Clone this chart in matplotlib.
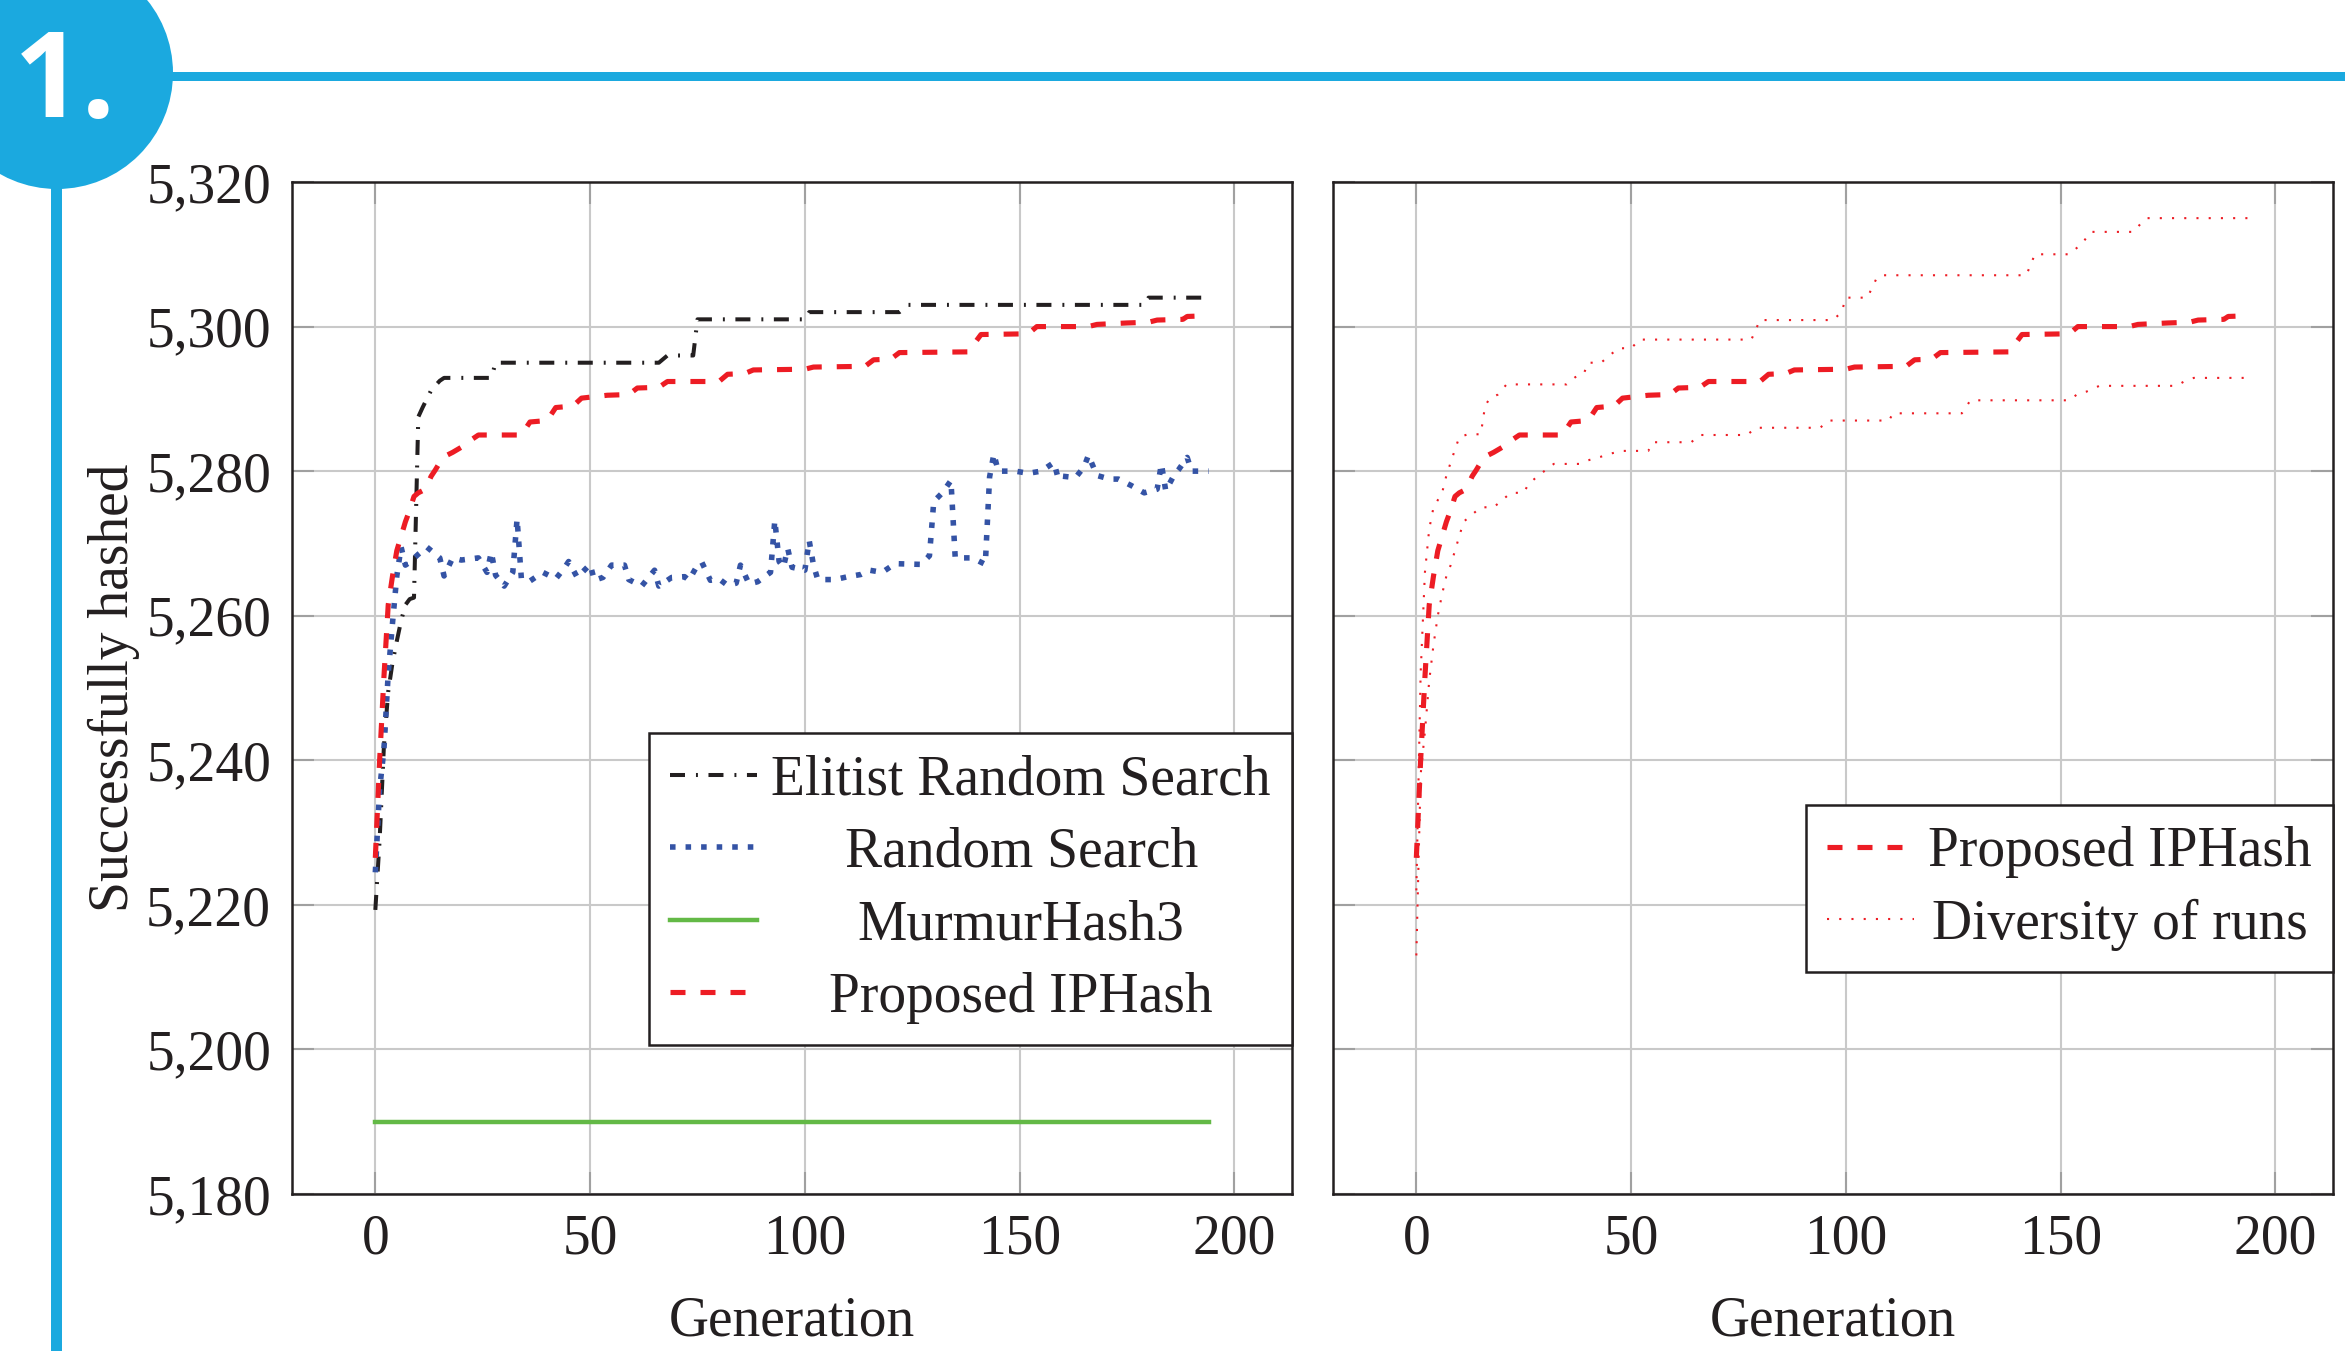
import matplotlib
matplotlib.use("Agg")
import matplotlib.pyplot as plt
from matplotlib.patches import Circle, Rectangle
from matplotlib.ticker import FuncFormatter

# ---------------- data ----------------
elitist_gen = [0, 1, 2, 3, 4, 5, 6, 7, 8, 9, 10, 11, 13, 15, 16, 27, 28, 66, 68, 74, 75,
               100, 101, 122, 124, 179, 180, 194]
elitist_val = [5219.3, 5229, 5242, 5249.5, 5253.5, 5256.5, 5259.3, 5261.5, 5262.3, 5262.5,
               5287.5, 5288.8, 5291.2, 5292.5, 5292.9, 5292.9, 5295, 5295, 5296, 5296, 5301,
               5301, 5302, 5302, 5303, 5303, 5304, 5304]

random_gen = [0, 1, 2, 3, 4, 5, 6, 7, 8, 10, 12, 15, 16, 18, 20, 24, 26, 27, 28, 30, 32, 33,
              34, 36, 39, 42, 44, 45, 47, 50, 51, 53, 55, 58, 59, 62, 65, 66, 69, 72, 73, 75,
              76, 78, 80, 82, 84, 85, 87, 89, 92, 93, 94, 95, 96, 97, 100, 101, 102, 103, 107,
              110, 113, 115, 118, 121, 127, 129, 130, 132, 134, 135, 139, 142, 143, 144, 145,
              149, 152, 155, 158, 159, 160, 163, 165, 166, 168, 171, 173, 176, 179, 182, 183,
              184, 186, 187, 189, 190, 194]
random_val = [5224.5, 5236, 5241.5, 5252, 5259, 5265.5, 5269.5, 5267, 5267.4, 5268.5, 5269.5,
              5268, 5265.5, 5268, 5267.7, 5268, 5266, 5268.8, 5265.6, 5264.1, 5266, 5273.4,
              5265.1, 5264.8, 5266, 5265.1, 5266.6, 5267.5, 5265.3, 5267.1, 5264.9, 5265.3,
              5267, 5267, 5265, 5264.1, 5266.3, 5264.1, 5265.3, 5265.4, 5264.9, 5267, 5267.4,
              5264.9, 5265.1, 5264.2, 5264.5, 5267, 5264.4, 5264.7, 5266, 5273.2, 5267.5,
              5266.7, 5269.3, 5266.7, 5266.3, 5270.4, 5267, 5265, 5265, 5265.4, 5265.7, 5266.3,
              5266, 5267.2, 5267.1, 5268.3, 5275.8, 5277, 5278.7, 5268, 5268, 5267.1, 5279.2,
              5282.4, 5280, 5280, 5279.7, 5280, 5281.2, 5278.9, 5279.3, 5279.1, 5280.6, 5282.2,
              5279.4, 5278.9, 5278.9, 5278, 5277, 5277.5, 5281, 5277.3, 5279.5, 5280.2, 5281.9,
              5280, 5280]

murmur_gen = [0, 194]
murmur_val = [5190, 5190]

iphash_gen = [0, 1, 2, 3, 4, 5, 6, 7, 8, 9, 10, 11, 12, 13, 14, 15, 16, 18, 20, 22, 24, 34,
              36, 40, 42, 46, 48, 54, 59, 61, 66, 68, 80, 82, 86, 88, 100, 102, 114, 116, 120,
              122, 138, 141, 152, 154, 166, 168, 175, 180, 182, 188, 189, 194]
iphash_val = [5226.5, 5240, 5251.5, 5261.5, 5265.5, 5269, 5271, 5273, 5274.6, 5276.5, 5277,
              5277.3, 5278, 5279.3, 5280.2, 5281.2, 5282, 5282.6, 5283.3, 5284.2, 5285, 5285,
              5286.8, 5287, 5288.8, 5289, 5290.1, 5290.5, 5290.6, 5291.5, 5291.6, 5292.4,
              5292.4, 5293.4, 5293.5, 5294, 5294.1, 5294.4, 5294.5, 5295.4, 5295.5, 5296.4,
              5296.5, 5298.9, 5299, 5300, 5300, 5300.3, 5300.5, 5300.6, 5300.9, 5301, 5301.4,
              5301.5]

upper_gen = [0, 1, 2, 3, 4, 5, 6, 7, 8, 9, 10, 12, 15, 16, 17, 19, 21, 35, 37, 39, 40, 43,
             45, 47, 50, 52, 78, 80, 97, 99, 100, 105, 107, 108, 142, 144, 152, 155, 157, 167,
             169, 170, 194]
upper_val = [5222, 5252, 5266, 5272, 5275, 5276, 5277, 5279.4, 5281.2, 5283, 5284.7, 5285.1,
             5285.1, 5289, 5290, 5290.6, 5292, 5292, 5293, 5293.5, 5295, 5295, 5296, 5297,
             5297, 5298.2, 5298.2, 5300.9, 5300.9, 5302, 5304, 5304, 5306.5, 5307.1, 5307.1,
             5310, 5310, 5311.5, 5313.1, 5313.1, 5314.5, 5315, 5315]

lower_gen = [0, 1, 2, 3, 4, 5, 6, 7, 8, 9, 10, 11, 13, 15, 18, 20, 22, 25, 26, 28, 30, 32,
             38, 40, 43, 45, 48, 54, 55, 64, 66, 77, 79, 94, 96, 110, 111, 127, 129, 152, 154,
             156, 159, 177, 179, 181, 194]
lower_val = [5213, 5238, 5244, 5251, 5256, 5260, 5263, 5265.5, 5267, 5269, 5271, 5273, 5274,
             5275, 5275, 5276, 5277, 5277, 5278.1, 5279.2, 5280.1, 5281, 5281, 5281.5, 5282,
             5282.4, 5282.8, 5282.8, 5284, 5284, 5285, 5285, 5286, 5286, 5287, 5287, 5288,
             5288, 5289.8, 5289.8, 5290.7, 5291, 5291.8, 5291.8, 5292.5, 5292.9, 5292.9]

x_ticks = [0, 50, 100, 150, 200]
y_ticks = [5180, 5200, 5220, 5240, 5260, 5280, 5300, 5320]
labels_left = ["Elitist Random Search", "Random Search", "MurmurHash3", "Proposed IPHash"]
labels_right = ["Proposed IPHash", "Diversity of runs"]
badge_text = "1."

# ---------------- style ----------------
plt.rcParams["font.family"] = ["Liberation Serif", "DejaVu Serif"]
plt.rcParams["font.size"] = 40
plt.rcParams["lines.scale_dashes"] = False

BLACK = "#231f20"
BLUE = "#3453a5"
RED = "#ed1c24"
GREEN = "#63b946"
CYAN = "#1ba9df"
GRID = "#c9c9c9"

W, H = 2345, 1351
fig = plt.figure(figsize=(W / 100, H / 100), dpi=100)

# badge overlay
ov = fig.add_axes([0, 0, 1, 1])
ov.set_xlim(0, W)
ov.set_ylim(H, 0)
ov.axis("off")
ov.add_patch(Circle((57, 73), 116, color=CYAN, lw=0))
ov.add_patch(Rectangle((150, 71.5), W - 150, 9.5, color=CYAN, lw=0))
ov.add_patch(Rectangle((51, 150), 11, H - 150, color=CYAN, lw=0))
ov.text(14, 117, badge_text, color="white", fontsize=86, fontweight="bold",
        family=["Open Sans", "DejaVu Sans"], ha="left", va="baseline")

ax_l = fig.add_axes([292 / W, 1 - 1194 / H, 1000 / W, 1012 / H])
ax_r = fig.add_axes([1333 / W, 1 - 1194 / H, 1000 / W, 1012 / H])

fmt = FuncFormatter(lambda v, p: f"{int(round(v)):,}")
for ax in (ax_l, ax_r):
    ax.set_xlim(-19.4, 213.4)
    ax.set_ylim(5180, 5320)
    ax.set_xticks(x_ticks)
    ax.set_yticks(y_ticks)
    ax.yaxis.set_major_formatter(fmt)
    ax.grid(True, color=GRID, lw=1.5)
    ax.set_axisbelow(True)
    ax.tick_params(direction="in", length=16, width=1.5, color="#a0a0a0",
                   top=True, right=True, labelsize=40, pad=14, labelcolor=BLACK)
    for s in ax.spines.values():
        s.set_linewidth(1.8)
        s.set_color(BLACK)
    ax.set_xlabel("Generation", fontsize=40, color=BLACK)
    ax.xaxis.set_label_coords(0.5, -0.1)

ax_r.tick_params(labelleft=False)
ax_l.set_ylabel("Successfully hashed", fontsize=40, color=BLACK)
ax_l.yaxis.set_label_coords(-0.152, 0.5)
ax_l.yaxis.set_tick_params(pad=15)
ax_l.tick_params(axis="y", which="major")

# left plot
l1, = ax_l.plot(elitist_gen, elitist_val, color=BLACK, lw=2.9,
                dashes=(10.8, 7.9, 1.4, 7.6))
l2, = ax_l.plot(random_gen, random_val, color=BLUE, lw=4.0, dashes=(4.0, 7.2))
l3, = ax_l.plot(murmur_gen, murmur_val, color=GREEN, lw=3.2)
l4, = ax_l.plot(iphash_gen, iphash_val, color=RED, lw=3.7, dashes=(10.8, 10.8))

# right plot
r1, = ax_r.plot(iphash_gen, iphash_val, color=RED, lw=3.7, dashes=(10.8, 10.8))
r2, = ax_r.plot(upper_gen, upper_val, color=RED, lw=1.5, dashes=(1.5, 7.3))
ax_r.plot(lower_gen, lower_val, color=RED, lw=1.5, dashes=(1.5, 7.3))

leg_kw = dict(loc="upper right", borderaxespad=0, frameon=True, fancybox=False,
              edgecolor=BLACK, framealpha=1, handlelength=1.56, handletextpad=0.26,
              borderpad=0.38, labelspacing=0.37, fontsize=40)
leg_l = ax_l.legend([l1, l2, l3, l4], labels_left, bbox_to_anchor=(1.0, 0.4555), **leg_kw)
leg_r = ax_r.legend([r1, r2], labels_right, bbox_to_anchor=(1.0, 0.3844), **leg_kw)
for lg in (leg_l, leg_r):
    lg.get_frame().set_linewidth(1.8)
    for t in lg.get_texts():
        t.set_color(BLACK)

# center legend texts (as in the reference)
fig.canvas.draw()
rend = fig.canvas.get_renderer()
for lg in (leg_l, leg_r):
    texts = lg.get_texts()
    widths = [t.get_window_extent(rend).width for t in texts]
    wmax = max(widths)
    for t, w in zip(texts, widths):
        t.set_position(((wmax - w) / 2, 0))

fig.savefig("out.png", dpi=100)
